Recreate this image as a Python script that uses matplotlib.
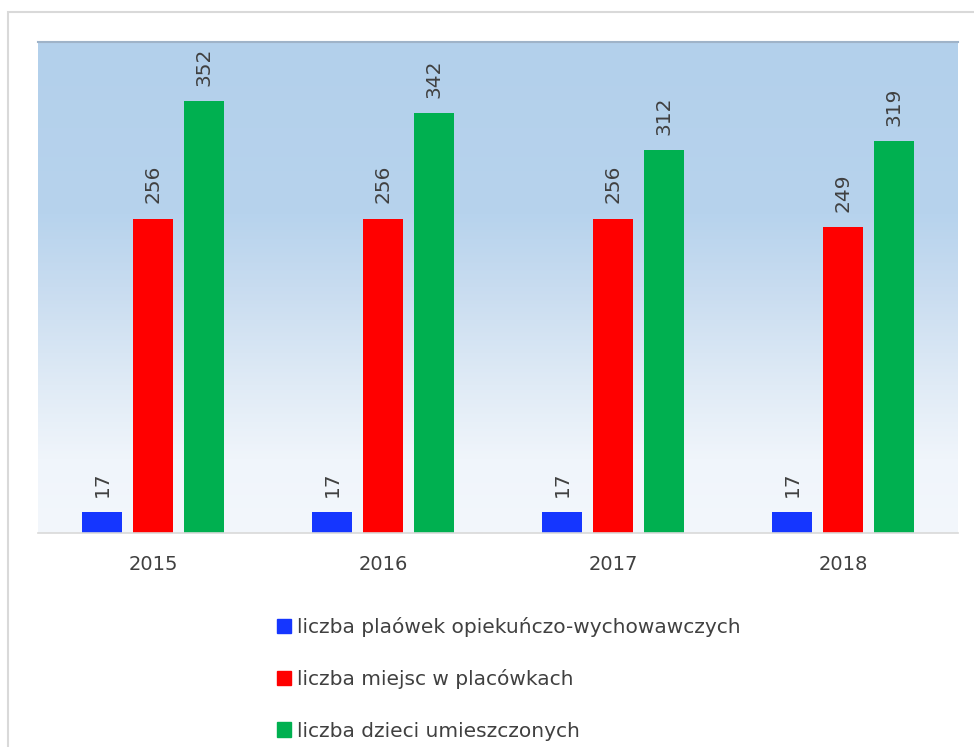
import numpy as np
import matplotlib.pyplot as plt
from matplotlib.patches import Rectangle, Patch
from matplotlib.colors import LinearSegmentedColormap

years = ['2015', '2016', '2017', '2018']
placowki = [17, 17, 17, 17]
miejsca = [256, 256, 256, 249]
dzieci = [352, 342, 312, 319]

labels = ['liczba plaówek opiekuńczo-wychowawczych',
          'liczba miejsc w placówkach',
          'liczba dzieci umieszczonych']
colors = ['#1536ff', '#ff0000', '#00b050']
txt = '#404040'

plt.rcParams['font.family'] = 'DejaVu Sans'

fig = plt.figure(figsize=(9.74, 7.47), dpi=100)
fig.patches.append(Rectangle((8 / 974, -0.1), 1.1, 1 + 0.1 - 12 / 747,
                             transform=fig.transFigure, fill=False,
                             edgecolor='#d9d9d9', linewidth=1.5, zorder=0))

ax = fig.add_axes([38 / 974, 1 - 533 / 747, 920 / 974, 491 / 747])

# gradient background (bottom -> top)
cmap = LinearSegmentedColormap.from_list(
    'bg', [(0.0, '#f3f7fc'), (0.15, '#f0f5fb'), (0.3, '#e0ebf6'),
           (0.5, '#c8dcf0'), (0.65, '#b7d3ed'), (1.0, '#b3d0eb')])
grad = np.linspace(0, 1, 256).reshape(-1, 1)
ax.imshow(grad, cmap=cmap, aspect='auto', origin='lower',
          extent=[0, 1, 0, 1], transform=ax.transAxes, zorder=0)

x = np.arange(len(years))
w = 0.174
off = 0.222
series = [placowki, miejsca, dzieci]
for i, vals in enumerate(series):
    xs = x + (i - 1) * off
    ax.bar(xs, vals, width=w, color=colors[i], zorder=2, label=labels[i])
    for xi, v in zip(xs, vals):
        ax.annotate(str(v), (xi, v), xytext=(0, 11), textcoords='offset points',
                    rotation=90, ha='center', va='bottom', fontsize=14.5, color=txt)

ax.set_xlim(-0.5, 3.5)
ax.set_ylim(0, 400)
ax.set_xticks(x)
ax.set_xticklabels(years, fontsize=14, color=txt)
ax.tick_params(axis='x', length=0, pad=16)
ax.set_yticks([])
for s in ['left', 'right']:
    ax.spines[s].set_visible(False)
ax.spines['top'].set_color('#9fb3c8')
ax.spines['top'].set_linewidth(1.5)
ax.spines['bottom'].set_color('#d9d9d9')
ax.spines['bottom'].set_linewidth(1.2)

handles = [Patch(color=c) for c in colors]
fig.legend(handles, labels, loc='upper left', bbox_to_anchor=(259 / 974, 1 - 599 / 747),
           frameon=False, fontsize=14.5, handlelength=0.7, handleheight=0.7,
           handletextpad=0.3, labelspacing=1.6, labelcolor=txt)

fig.savefig('out.png', dpi=100)
